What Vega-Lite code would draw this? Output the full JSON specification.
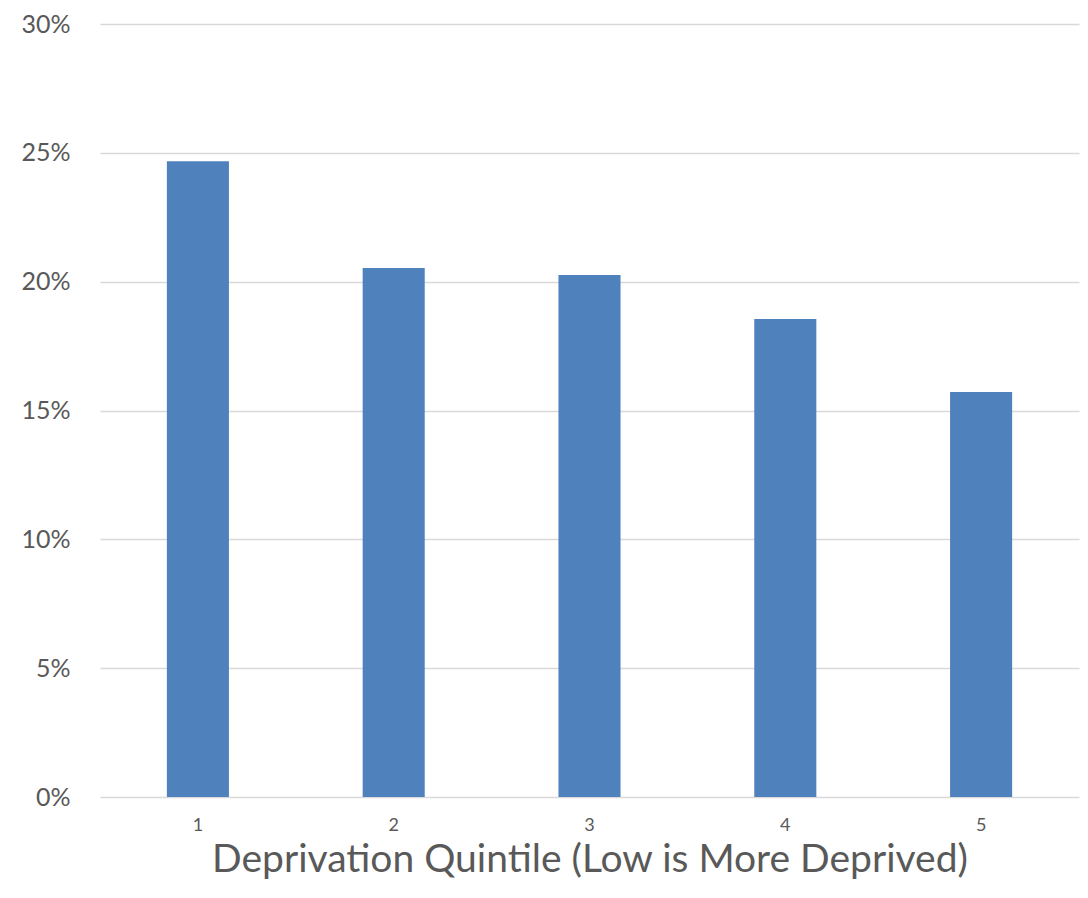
{
  "$schema": "https://vega.github.io/schema/vega-lite/v6.json",
  "width": 979,
  "height": 773,
  "autosize": "none",
  "padding": {"left": 100, "top": 24, "right": 9, "bottom": 101},
  "background": "white",
  "config": {"view": {"stroke": null}, "font": "Lato"},
  "data": {"values": [
    {"quintile": "1", "share": 0.2467},
    {"quintile": "2", "share": 0.2053},
    {"quintile": "3", "share": 0.2026},
    {"quintile": "4", "share": 0.1855},
    {"quintile": "5", "share": 0.1572}
  ]},
  "mark": {"type": "bar", "color": "#4f81bd", "width": {"band": 0.317}},
  "encoding": {
    "x": {
      "field": "quintile", "type": "ordinal",
      "scale": {"paddingInner": 0, "paddingOuter": 0},
      "axis": {
        "title": "Deprivation Quintile (Low is More Deprived)",
        "titleFontSize": 39, "titleFontWeight": "normal", "titleColor": "#595959", "titlePadding": 6,
        "labelFontSize": 18, "labelColor": "#595959", "labelAngle": 0, "labelPadding": 19,
        "ticks": false, "domain": false
      }
    },
    "y": {
      "field": "share", "type": "quantitative",
      "scale": {"domain": [0, 0.3]},
      "axis": {
        "title": null, "format": ".0%", "values": [0, 0.05, 0.1, 0.15, 0.2, 0.25, 0.3],
        "labelFontSize": 25, "labelColor": "#595959", "labelPadding": 30,
        "ticks": false, "domain": false, "gridColor": "#d9d9d9", "gridWidth": 1.5
      }
    }
  }
}
